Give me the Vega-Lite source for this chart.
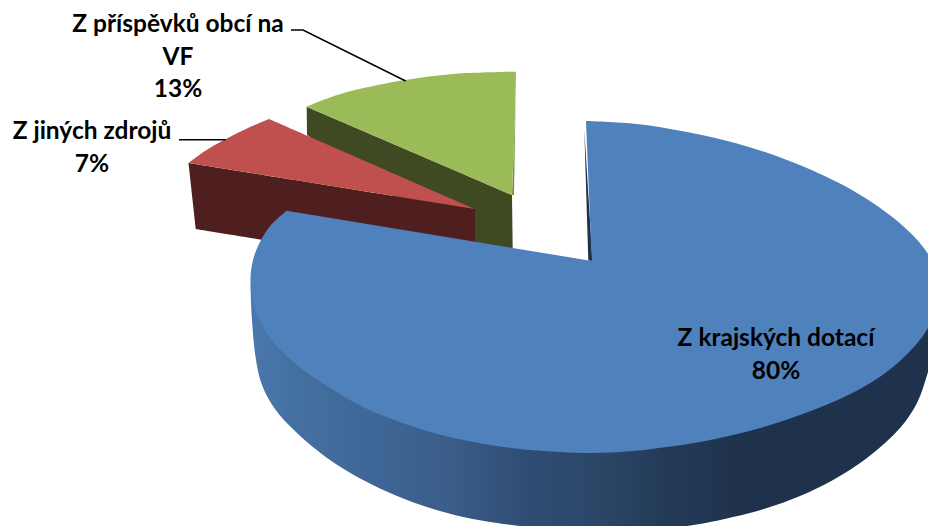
{"$schema":"https://vega.github.io/schema/vega-lite/v6.json","width":928,"height":526,"padding":0,"autosize":{"type":"none"},"background":"white","config":{"view":{"stroke":null}},"datasets":{"shapes":[
{"part":"side","i":0,"x":250.5,"y":285},{"part":"side","i":1,"x":252,"y":320},{"part":"side","i":2,"x":256,"y":360},{"part":"side","i":3,"x":262,"y":385},{"part":"side","i":4,"x":275,"y":409},{"part":"side","i":5,"x":297,"y":433},{"part":"side","i":6,"x":330,"y":460},{"part":"side","i":7,"x":363,"y":480},{"part":"side","i":8,"x":397,"y":496},{"part":"side","i":9,"x":430,"y":508},{"part":"side","i":10,"x":463,"y":517},{"part":"side","i":11,"x":497,"y":523},{"part":"side","i":12,"x":530,"y":527},{"part":"side","i":13,"x":600,"y":531},{"part":"side","i":14,"x":687,"y":526},{"part":"side","i":15,"x":733,"y":517},{"part":"side","i":16,"x":767,"y":508},{"part":"side","i":17,"x":800,"y":496},{"part":"side","i":18,"x":833,"y":480},{"part":"side","i":19,"x":867,"y":458},{"part":"side","i":20,"x":900,"y":428},{"part":"side","i":21,"x":917,"y":403},{"part":"side","i":22,"x":928,"y":372},{"part":"side","i":23,"x":940,"y":330},{"part":"side","i":24,"x":940,"y":330},{"part":"side","i":25,"x":940,"y":300},{"part":"side","i":26,"x":940,"y":300},{"part":"side","i":27,"x":600,"y":300},{"part":"side","i":28,"x":600,"y":300},
{"part":"green side","i":0,"x":306.7,"y":106.7},{"part":"green side","i":1,"x":512,"y":195},{"part":"green side","i":2,"x":512,"y":195},{"part":"green side","i":3,"x":512.7,"y":250},{"part":"green side","i":4,"x":512.7,"y":250},{"part":"green side","i":5,"x":470,"y":250},{"part":"green side","i":6,"x":470,"y":250},{"part":"green side","i":7,"x":307,"y":135},
{"part":"green top","i":0,"x":306.7,"y":106.7},{"part":"green top","i":1,"x":330,"y":97.5},{"part":"green top","i":2,"x":353,"y":90.5},{"part":"green top","i":3,"x":405,"y":80},{"part":"green top","i":4,"x":453,"y":74},{"part":"green top","i":5,"x":516,"y":71.7},{"part":"green top","i":6,"x":516,"y":71.7},{"part":"green top","i":7,"x":515.5,"y":103},{"part":"green top","i":8,"x":515.5,"y":103},{"part":"green top","i":9,"x":512,"y":195},
{"part":"green edge","i":0,"x":515.5,"y":103},{"part":"green edge","i":1,"x":515.5,"y":103},{"part":"green edge","i":2,"x":514,"y":195},{"part":"green edge","i":3,"x":514,"y":195},{"part":"green edge","i":4,"x":512,"y":195},
{"part":"red side","i":0,"x":188.5,"y":163},{"part":"red side","i":1,"x":475,"y":209},{"part":"red side","i":2,"x":475,"y":209},{"part":"red side","i":3,"x":475,"y":245},{"part":"red side","i":4,"x":475,"y":245},{"part":"red side","i":5,"x":300,"y":246},{"part":"red side","i":6,"x":300,"y":246},{"part":"red side","i":7,"x":195.7,"y":229},
{"part":"red top","i":0,"x":188.5,"y":163},{"part":"red top","i":1,"x":205,"y":151},{"part":"red top","i":2,"x":225,"y":139.5},{"part":"red top","i":3,"x":247,"y":128.5},{"part":"red top","i":4,"x":269,"y":119},{"part":"red top","i":5,"x":269,"y":119},{"part":"red top","i":6,"x":475,"y":209},
{"part":"blue edge","i":0,"x":584.3,"y":130},{"part":"blue edge","i":1,"x":592.5,"y":261},{"part":"blue edge","i":2,"x":592.5,"y":261},{"part":"blue edge","i":3,"x":588.3,"y":260.5},
{"part":"blue top","i":0,"x":592,"y":261},{"part":"blue top","i":1,"x":586,"y":121},{"part":"blue top","i":2,"x":586,"y":121},{"part":"blue top","i":3,"x":637,"y":124},{"part":"blue top","i":4,"x":687,"y":132},{"part":"blue top","i":5,"x":737,"y":143.5},{"part":"blue top","i":6,"x":787,"y":160},{"part":"blue top","i":7,"x":837,"y":182},{"part":"blue top","i":8,"x":870,"y":201},{"part":"blue top","i":9,"x":903,"y":226},{"part":"blue top","i":10,"x":928,"y":254},{"part":"blue top","i":11,"x":942,"y":290},{"part":"blue top","i":12,"x":928,"y":328},{"part":"blue top","i":13,"x":900,"y":361},{"part":"blue top","i":14,"x":867,"y":385},{"part":"blue top","i":15,"x":833,"y":402},{"part":"blue top","i":16,"x":800,"y":415},{"part":"blue top","i":17,"x":767,"y":426},{"part":"blue top","i":18,"x":733,"y":435},{"part":"blue top","i":19,"x":700,"y":442},{"part":"blue top","i":20,"x":667,"y":447},{"part":"blue top","i":21,"x":633,"y":451},{"part":"blue top","i":22,"x":590,"y":453},{"part":"blue top","i":23,"x":530,"y":450},{"part":"blue top","i":24,"x":497,"y":446},{"part":"blue top","i":25,"x":463,"y":440},{"part":"blue top","i":26,"x":430,"y":432},{"part":"blue top","i":27,"x":397,"y":421},{"part":"blue top","i":28,"x":363,"y":407},{"part":"blue top","i":29,"x":330,"y":388},{"part":"blue top","i":30,"x":297,"y":365},{"part":"blue top","i":31,"x":270,"y":338},{"part":"blue top","i":32,"x":255,"y":310},{"part":"blue top","i":33,"x":250.5,"y":282},{"part":"blue top","i":34,"x":253,"y":260},{"part":"blue top","i":35,"x":260,"y":242},{"part":"blue top","i":36,"x":271,"y":225},{"part":"blue top","i":37,"x":286.7,"y":210.7},{"part":"blue top","i":38,"x":286.7,"y":210.7}],
"leaders":[{"slice":"green","i":0,"x":291,"y":30},{"slice":"green","i":1,"x":303,"y":30},{"slice":"green","i":2,"x":405.7,"y":81},{"slice":"red","i":0,"x":179,"y":139.7},{"slice":"red","i":1,"x":225.7,"y":139.7}],
"labels":[{"text":"Z příspěvků obcí na\nVF\n13%","share":13,"x":178,"y":32},{"text":"Z jiných zdrojů\n7%","share":7,"x":92,"y":139},{"text":"Z krajských dotací\n80%","share":80,"x":776,"y":346}]},
"layer":[
{"data":{"name":"shapes"},"transform":[{"filter":"datum.part === 'side'"}],"mark":{"type":"line","clip":true,"interpolate":"catmull-rom","strokeWidth":0,"fill":{"x1":0,"y1":0,"x2":1,"y2":0,"gradient":"linear","stops":[{"offset":0,"color":"#4a77ad"},{"offset":0.07,"color":"#44709f"},{"offset":0.16,"color":"#3f6899"},{"offset":0.295,"color":"#3a5c88"},{"offset":0.41,"color":"#2e4c72"},{"offset":0.52,"color":"#2a4565"},{"offset":0.6,"color":"#233b58"},{"offset":0.71,"color":"#1f324c"},{"offset":1,"color":"#1f324c"}]}},"encoding":{"x":{"field":"x","type":"quantitative","scale":{"domain":[0,928]},"axis":null},"y":{"field":"y","type":"quantitative","scale":{"domain":[526,0]},"axis":null},"order":{"field":"i"}}},
{"data":{"name":"shapes"},"transform":[{"filter":"datum.part !== 'side'"}],"mark":{"type":"line","clip":true,"interpolate":"catmull-rom","strokeWidth":0},"encoding":{"x":{"field":"x","type":"quantitative","scale":{"domain":[0,928]},"axis":null},"y":{"field":"y","type":"quantitative","scale":{"domain":[526,0]},"axis":null},"order":{"field":"i"},"detail":{"field":"part"},"fill":{"field":"part","type":"nominal","legend":null,"scale":{"domain":["green side","green top","green edge","red side","red top","blue edge","blue top"],"range":["#3f4922","#9bbb59","#76933c","#4f1f1f","#c0504d","#1f324c","#4f81bd"]}}}},
{"data":{"name":"leaders"},"mark":{"type":"line","color":"black","strokeWidth":1.5},"encoding":{"x":{"field":"x","type":"quantitative","scale":{"domain":[0,928]},"axis":null},"y":{"field":"y","type":"quantitative","scale":{"domain":[526,0]},"axis":null},"order":{"field":"i"},"detail":{"field":"slice"}}},
{"data":{"name":"labels"},"mark":{"type":"text","font":"Lato","fontWeight":"bold","fontSize":24.5,"lineHeight":32.5,"lineBreak":"\n","align":"center","baseline":"alphabetic","color":"black"},"encoding":{"x":{"field":"x","type":"quantitative","scale":{"domain":[0,928]},"axis":null},"y":{"field":"y","type":"quantitative","scale":{"domain":[526,0]},"axis":null},"text":{"field":"text"}}}
]}
